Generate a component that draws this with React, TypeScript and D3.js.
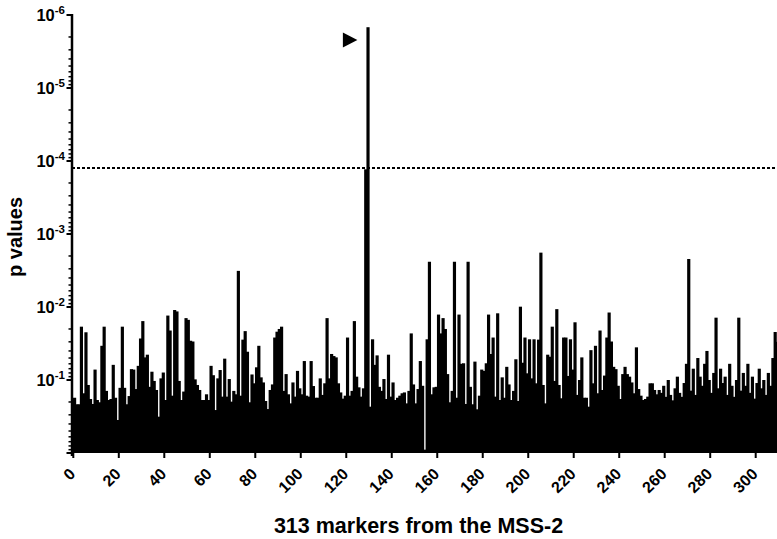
import React from 'react';
import * as d3 from 'd3';

// p value of each of the 313 markers (index = marker number)
const pValues: number[] = [
  0.175, 0.215, 0.215, 0.0186, 0.152, 0.0222, 0.117, 0.182, 0.213, 0.072,
  0.188, 0.202, 0.034, 0.0186, 0.141, 0.188, 0.182, 0.062, 0.175, 0.353,
  0.128, 0.0186, 0.128, 0.215, 0.166, 0.071, 0.072, 0.133, 0.064, 0.027,
  0.0156, 0.049, 0.045, 0.124, 0.077, 0.103, 0.137, 0.318, 0.095, 0.079,
  0.188, 0.0131, 0.021, 0.164, 0.011, 0.0115, 0.103, 0.188, 0.144, 0.0142,
  0.015, 0.029, 0.0297, 0.098, 0.117, 0.137, 0.188, 0.188, 0.157, 0.188,
  0.064, 0.086, 0.258, 0.095, 0.073, 0.169, 0.051, 0.169, 0.097, 0.198,
  0.141, 0.157, 0.0032, 0.164, 0.028, 0.0214, 0.041, 0.202, 0.084, 0.111,
  0.067, 0.034, 0.092, 0.108, 0.194, 0.25, 0.137, 0.115, 0.0262, 0.0218,
  0.02, 0.0186, 0.141, 0.083, 0.157, 0.209, 0.108, 0.169, 0.075, 0.13,
  0.157, 0.055, 0.164, 0.169, 0.055, 0.121, 0.175, 0.175, 0.095, 0.16,
  0.111, 0.0142, 0.095, 0.044, 0.047, 0.049, 0.111, 0.148, 0.18, 0.164,
  0.0262, 0.164, 0.141, 0.0156, 0.09, 0.126, 0.169, 0.13, 0.00013, 0.00000147,
  0.232, 0.0277, 0.062, 0.046, 0.124, 0.141, 0.097, 0.182, 0.045, 0.169,
  0.108, 0.188, 0.175, 0.164, 0.152, 0.148, 0.209, 0.141, 0.023, 0.115,
  0.209, 0.133, 0.055, 0.12, 0.9, 0.0277, 0.0024, 0.157, 0.126, 0.124,
  0.0127, 0.023, 0.0142, 0.02, 0.083, 0.202, 0.141, 0.0024, 0.175, 0.0127,
  0.06, 0.059, 0.213, 0.0024, 0.124, 0.215, 0.056, 0.252, 0.164, 0.072,
  0.075, 0.059, 0.0127, 0.044, 0.0262, 0.169, 0.0122, 0.188, 0.092, 0.175,
  0.066, 0.115, 0.188, 0.141, 0.052, 0.194, 0.0099, 0.058, 0.0262, 0.081,
  0.0277, 0.095, 0.0277, 0.111, 0.028, 0.0018, 0.117, 0.209, 0.045, 0.048,
  0.0186, 0.103, 0.0107, 0.117, 0.178, 0.0262, 0.0262, 0.088, 0.0277, 0.072,
  0.0162, 0.16, 0.1, 0.049, 0.175, 0.175, 0.232, 0.039, 0.111, 0.034,
  0.152, 0.021, 0.137, 0.087, 0.0262, 0.0119, 0.0297, 0.066, 0.071, 0.12,
  0.182, 0.083, 0.066, 0.083, 0.09, 0.108, 0.152, 0.0357, 0.133, 0.164,
  0.188, 0.182, 0.169, 0.111, 0.111, 0.137, 0.157, 0.137, 0.15, 0.12,
  0.17, 0.1, 0.16, 0.19, 0.13, 0.09, 0.15, 0.17, 0.11, 0.06,
  0.0022, 0.14, 0.07, 0.16, 0.05, 0.09, 0.12, 0.06, 0.04, 0.1,
  0.15, 0.08, 0.014, 0.13, 0.07, 0.11, 0.09, 0.16, 0.06, 0.12,
  0.17, 0.1, 0.014, 0.14, 0.08, 0.12, 0.06, 0.15, 0.09, 0.18,
  0.11, 0.07, 0.13, 0.1, 0.16, 0.08, 0.12, 0.05, 0.022, 0.03,
  0.12, 0.09, 0.15,
];

const xTickValues = [0, 20, 40, 60, 80, 100, 120, 140, 160, 180, 200, 220, 240, 260, 280, 300];
const yTickExponents = [-1, -2, -3, -4, -5, -6];
const thresholdP = 1.25e-4;
const flaggedMarker = 129;
const xTitle = '313 markers from the MSS-2';
const yTitle = 'p values';

const W = 777;
const H = 539;
const FONT = '"Liberation Sans", Arial, Helvetica, sans-serif';

export default function App() {
  const x = d3.scaleLinear().domain([0, 300]).range([73.3, 755.7]);
  const y = d3.scaleLog().domain([1, 1e-6]).range([453, 15]);
  const axisX = 72;
  const axisY = 452;

  const minorTicks: number[] = [];
  for (let e = 0; e < 6; e++) {
    for (let m = 2; m <= 9; m++) minorTicks.push(m * Math.pow(10, -(e + 1)));
  }
  const majorTicks = d3.range(0, 7).map((e) => Math.pow(10, -e));

  const fx = x(flaggedMarker + 0.5);
  const fy = y(pValues[flaggedMarker]) + 12.7;

  return (
    <svg
      width={W}
      height={H}
      viewBox={`0 0 ${W} ${H}`}
      style={{ position: 'absolute', left: 0, top: 0, background: '#fff' }}
      fontFamily={FONT}
    >
      <rect x={0} y={0} width={W} height={H} fill="#fff" />
      {/* bars */}
      <g fill="#000">
        {pValues.map((p, i) => (
          <rect key={i} x={x(i) - 0.3} width={x(i + 1) - x(i) + 0.9} y={y(p)} height={y(1) - y(p)} />
        ))}
      </g>
      {/* threshold */}
      <line
        x1={axisX}
        x2={W}
        y1={y(thresholdP)}
        y2={y(thresholdP)}
        stroke="#000"
        strokeWidth={2}
        strokeDasharray="3,2"
      />
      {/* flag triangle */}
      <path
        d={`M${fx - 25},${fy - 7.5} L${fx - 10.5},${fy} L${fx - 25},${fy + 7.5} Z`}
        fill="#000"
      />
      {/* y axis */}
      <line x1={axisX} x2={axisX} y1={y(1e-6) - 1} y2={axisY + 4} stroke="#000" strokeWidth={2.5} />
      {majorTicks.map((v, i) => (
        <line key={'M' + i} x1={axisX - 5.5} x2={axisX} y1={y(v)} y2={y(v)} stroke="#000" strokeWidth={2} />
      ))}
      {minorTicks.map((v, i) => (
        <line key={'m' + i} x1={axisX - 3.5} x2={axisX} y1={y(v)} y2={y(v)} stroke="#000" strokeWidth={1.5} />
      ))}
      {yTickExponents.map((e) => (
        <text
          key={'yl' + e}
          x={65}
          y={y(Math.pow(10, e)) + 5.5}
          textAnchor="end"
          fontSize={16.5}
          fontWeight="bold"
          fill="#000"
        >
          10
          <tspan fontSize={11.5} dy={-6.5}>
            {String(e)}
          </tspan>
        </text>
      ))}
      {/* x axis */}
      <line x1={axisX - 1} x2={W} y1={axisY} y2={axisY} stroke="#000" strokeWidth={2} />
      {xTickValues.map((v) => (
        <g key={'xt' + v}>
          <line x1={x(v)} x2={x(v)} y1={axisY} y2={axisY + 6} stroke="#000" strokeWidth={2} />
          <text
            transform={`translate(${x(v) + 3},475) rotate(-45)`}
            textAnchor="end"
            fontSize={16}
            fontWeight="bold"
            fill="#000"
          >
            {v}
          </text>
        </g>
      ))}
      {/* titles */}
      <text x={418.5} y={533} textAnchor="middle" fontSize={21.5} fontWeight="bold" fill="#000">
        {xTitle}
      </text>
      <text
        transform={`translate(22,237) rotate(-90)`}
        textAnchor="middle"
        fontSize={20}
        fontWeight="bold"
        fill="#000"
      >
        {yTitle}
      </text>
    </svg>
  );
}
